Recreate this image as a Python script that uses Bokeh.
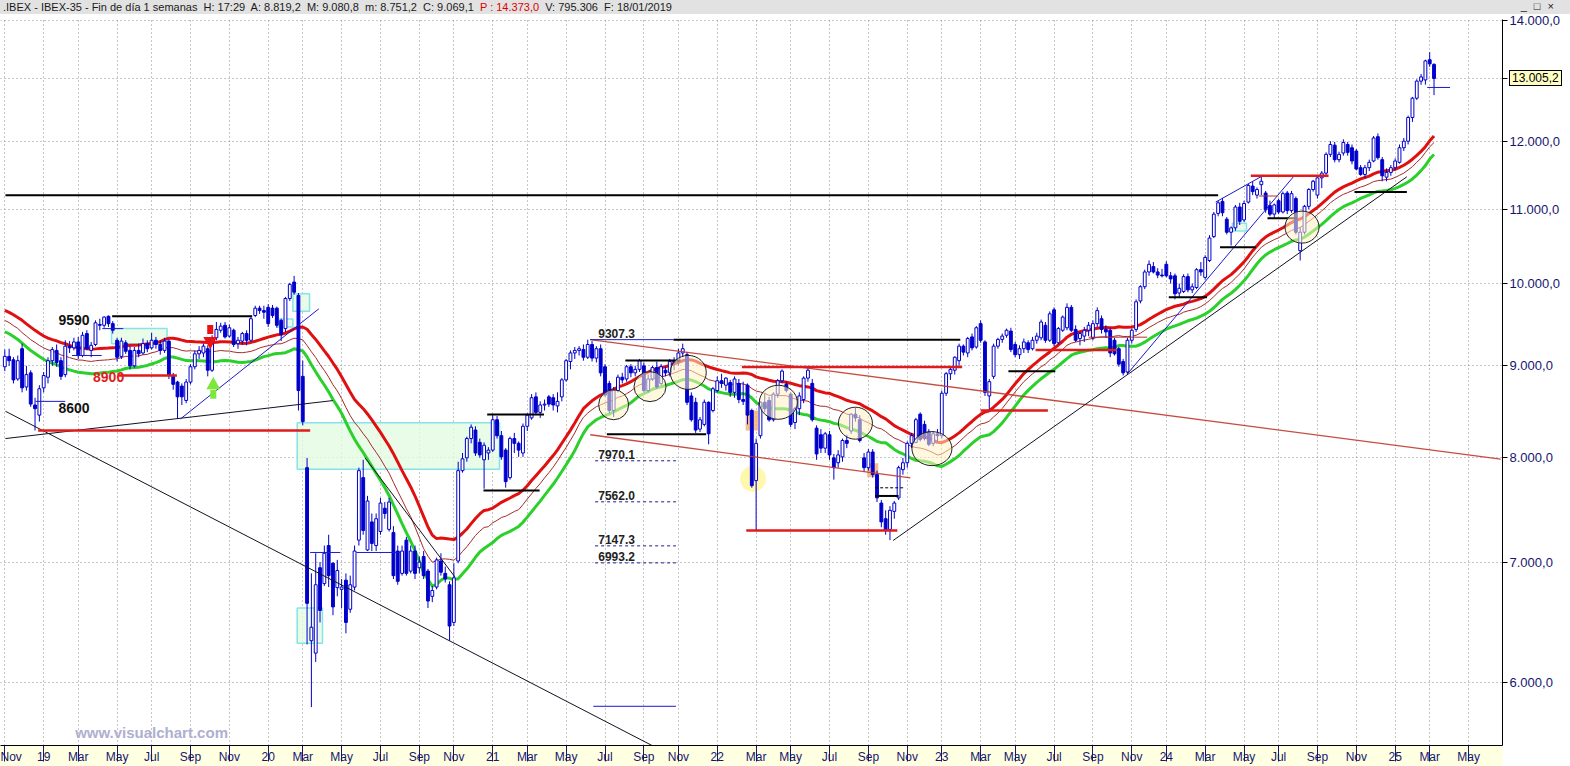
import numpy as np
import pandas as pd
from bokeh.plotting import figure
from bokeh.models import Range1d, FixedTicker, Div
from bokeh.layouts import column
from bokeh.embed import file_html
from bokeh.resources import INLINE
from bokeh.core.properties import value

# ---------------- DATA ----------------
first_week = "2018-11-05"          # Monday of the first weekly bar

# weekly bars (open, high, low, close)
ohlc_2018 = [
    (8990, 9190, 8940, 9110), (9110, 9200, 9000, 9060), (9070, 9100, 8800, 8840),
    (8850, 9120, 8830, 9060), (9200, 9260, 8700, 8750), (8760, 9000, 8720, 8900),
    (8920, 8950, 8540, 8570), (8560, 8640, 8286, 8520),
]
ohlc_2019 = [
    (8450, 8780, 8380, 8740), (8750, 8930, 8700, 8890), (8870, 9100, 8800, 9060), (9060, 9220, 9000, 9190),
    (9180, 9250, 8990, 9040), (9060, 9100, 8840, 8880), (8900, 9300, 8870, 9230), (9230, 9290, 9150, 9210),
    (9210, 9330, 9180, 9280), (9280, 9340, 9080, 9120), (9120, 9400, 9100, 9360), (9380, 9420, 9180, 9200),
    (9180, 9280, 9100, 9240), (9250, 9540, 9230, 9510), (9490, 9560, 9420, 9480), (9480, 9590, 9450, 9580),
    (9590, 9600, 9460, 9500), (9500, 9530, 9380, 9420), (9300, 9330, 9050, 9100), (9110, 9330, 9080, 9290),
    (9270, 9300, 9140, 9170), (9180, 9230, 8960, 9000), (9000, 9220, 8980, 9180), (9180, 9260, 9100, 9140),
    (9150, 9320, 9130, 9260), (9260, 9300, 9160, 9200), (9210, 9390, 9190, 9300), (9300, 9340, 9200, 9250),
    (9250, 9300, 9130, 9180), (9180, 9330, 9150, 9290), (9290, 9310, 8850, 8890), (8880, 8920, 8730, 8790),
    (8815, 8830, 8408, 8650), (8770, 8800, 8560, 8650), (8610, 8850, 8580, 8815), (8815, 9020, 8790, 8990),
    (8990, 9180, 8960, 9140), (9140, 9230, 9080, 9180), (9150, 9260, 9100, 9230), (9200, 9240, 8880, 8950),
    (8950, 9360, 8930, 9330), (9330, 9520, 9300, 9430), (9420, 9510, 9390, 9470), (9480, 9520, 9320, 9340),
    (9350, 9490, 9330, 9450), (9420, 9440, 9220, 9250), (9260, 9340, 9200, 9300), (9290, 9400, 9250, 9380),
    (9380, 9420, 9240, 9300), (9300, 9600, 9280, 9560), (9600, 9720, 9580, 9690), (9690, 9720, 9620, 9660),
]
ohlc_2020 = [
    (9660, 9720, 9560, 9640), (9700, 9740, 9460, 9500), (9690, 9730, 9570, 9600), (9690, 9710, 9450, 9480),
    (9540, 9560, 9290, 9370), (9440, 9830, 9400, 9810), (9810, 10010, 9780, 9990), (10020, 10100, 9860, 9890),
    (9850, 9880, 8500, 8720), (8880, 9060, 8340, 8380), (7900, 8000, 6300, 6640), (6330, 6900, 5814, 6440),
    (6230, 7080, 6160, 6800), (6950, 7000, 6480, 6580), (6810, 7150, 6790, 7080), (7150, 7250, 6780, 6880),
    (6990, 7000, 6540, 6610), (6775, 7020, 6700, 6925), (6760, 6850, 6600, 6780), (6840, 6900, 6390, 6480),
    (6590, 6880, 6560, 6800), (6780, 7150, 6750, 7100), (7200, 7900, 7150, 7870), (7800, 7980, 7250, 7290),
    (7110, 7620, 7100, 7570), (7370, 7450, 7100, 7170), (7150, 7450, 7100, 7400), (7280, 7600, 7250, 7550),
    (7500, 7560, 7400, 7450), (7300, 7600, 7280, 7560), (7270, 7330, 6850, 6880), (7100, 7150, 6800, 6830),
    (6900, 7150, 6880, 7100), (7200, 7230, 6880, 6900), (6920, 7150, 6900, 7100), (7100, 7150, 6850, 6900),
    (6950, 7050, 6900, 7000), (7050, 7100, 6850, 6880), (6920, 6940, 6600, 6660), (6700, 6790, 6650, 6750),
    (6780, 7040, 6760, 7020), (7010, 7080, 6880, 6910), (6900, 6960, 6820, 6850), (6800, 6830, 6330, 6450),
    (6480, 6990, 6450, 6860), (7010, 7960, 6990, 7870), (7870, 8050, 7850, 7990), (8000, 8220, 7960, 8200),
    (8200, 8350, 8150, 8320), (8290, 8330, 8020, 8050), (8160, 8200, 8000, 8030), (7980, 8160, 7690, 8130),
]
ohlc_2021 = [
    (8050, 8110, 7980, 8080), (8080, 8450, 8060, 8400), (8400, 8440, 8200, 8230), (8230, 8280, 7980, 8010),
    (8080, 8100, 7700, 7760), (7800, 8220, 7780, 8200), (8200, 8260, 8050, 8150), (8150, 8170, 8010, 8080),
    (8050, 8360, 8010, 8330), (8330, 8470, 8280, 8450), (8420, 8680, 8400, 8640), (8650, 8700, 8450, 8480),
    (8480, 8600, 8420, 8560), (8560, 8620, 8500, 8570), (8650, 8670, 8540, 8570), (8640, 8680, 8500, 8560),
    (8550, 8700, 8480, 8600), (8650, 8860, 8600, 8840), (8840, 9080, 8820, 9060), (9050, 9180, 8960, 9150),
    (9150, 9220, 9080, 9180), (9180, 9230, 9120, 9200), (9190, 9250, 9060, 9100), (9100, 9307, 9080, 9250),
    (9250, 9290, 9050, 9090), (9090, 9230, 9040, 9200), (9200, 9250, 8880, 8920), (8990, 9020, 8650, 8670),
    (8800, 8830, 8470, 8500), (8500, 8760, 8430, 8720), (8720, 8900, 8700, 8870), (8870, 8920, 8800, 8840),
    (8850, 9010, 8820, 8990), (8990, 9020, 8870, 8920), (8920, 9000, 8880, 8960), (8960, 9080, 8930, 9060),
    (9000, 9040, 8700, 8720), (8720, 8900, 8700, 8850), (8850, 9000, 8830, 8980), (8980, 9050, 8740, 8760),
    (8800, 9020, 8780, 8990), (8950, 8990, 8880, 8920), (8920, 9080, 8880, 9050), (9050, 9100, 8950, 9040),
    (9050, 9200, 9000, 9150), (9150, 9260, 9100, 9200), (9130, 9160, 8560, 8590), (8660, 8700, 8380, 8400),
    (8590, 8640, 8260, 8290), (8300, 8430, 8270, 8400), (8350, 8620, 8330, 8590), (8590, 8600, 8140, 8250),
    (8500, 8760, 8480, 8740),
]
ohlc_2022 = [
    (8720, 8880, 8700, 8830), (8830, 8910, 8750, 8800), (8780, 8870, 8720, 8860), (8810, 8840, 8650, 8700),
    (8700, 8880, 8640, 8850), (8800, 8850, 8580, 8620), (8620, 8820, 8560, 8600), (8780, 8800, 8350, 8450),
    (8500, 8520, 7700, 7720), (7770, 8200, 7290, 8150), (8230, 8600, 8200, 8590), (8590, 8690, 8480, 8520),
    (8610, 8650, 8380, 8400), (8400, 8700, 8380, 8680), (8680, 8850, 8640, 8830), (8830, 8960, 8800, 8940),
    (8790, 8820, 8700, 8720), (8680, 8700, 8320, 8350), (8370, 8540, 8300, 8520), (8520, 8700, 8450, 8660),
    (8620, 8880, 8580, 8860), (8860, 8987, 8820, 8950), (8800, 8850, 8380, 8400), (8310, 8340, 7980, 8040),
    (8240, 8300, 8050, 8100), (8100, 8270, 8050, 8250), (8240, 8280, 7980, 8030), (8000, 8040, 7780, 7900),
    (7950, 8080, 7900, 8030), (8010, 8200, 7960, 8180), (8180, 8240, 8100, 8150), (8280, 8470, 8250, 8460),
    (8460, 8530, 8380, 8420), (8400, 8450, 8160, 8180), (8000, 8050, 7860, 7900), (7900, 8090, 7870, 8060),
    (8060, 8090, 7800, 7830), (7830, 7870, 7560, 7600), (7550, 7580, 7320, 7370), (7400, 7480, 7250, 7290),
    (7300, 7520, 7200, 7480), (7470, 7570, 7400, 7550), (7600, 7920, 7580, 7900), (7880, 8000, 7830, 7950),
    (7950, 8170, 7900, 8150), (8150, 8260, 8100, 8230), (8160, 8420, 8150, 8400), (8460, 8480, 8170, 8190),
    (8350, 8390, 8180, 8200), (8270, 8300, 8120, 8140), (8150, 8280, 8120, 8250), (8250, 8300, 8170, 8230),
]
ohlc_2023 = [
    (8230, 8720, 8200, 8690), (8690, 8930, 8660, 8910), (8910, 8990, 8840, 8960), (8950, 9110, 8900, 9100),
    (9060, 9260, 9000, 9230), (9230, 9250, 9120, 9160), (9150, 9340, 9100, 9320), (9340, 9380, 9180, 9210),
    (9220, 9470, 9200, 9450), (9500, 9540, 9270, 9300), (9280, 9300, 8660, 8700), (8660, 8850, 8500, 8820),
    (8880, 9260, 8850, 9230), (9230, 9330, 9200, 9310), (9310, 9380, 9270, 9350), (9360, 9440, 9330, 9420),
    (9410, 9450, 9160, 9190), (9250, 9280, 9100, 9130), (9130, 9240, 9080, 9200), (9200, 9320, 9150, 9280),
    (9270, 9300, 9150, 9190), (9200, 9340, 9180, 9300), (9300, 9390, 9260, 9350), (9330, 9550, 9300, 9520),
    (9480, 9520, 9270, 9300), (9300, 9650, 9280, 9620), (9670, 9700, 9230, 9260), (9270, 9460, 9250, 9440),
    (9420, 9600, 9400, 9580), (9450, 9750, 9420, 9700), (9700, 9730, 9400, 9420), (9430, 9480, 9280, 9300),
    (9320, 9400, 9240, 9380), (9350, 9460, 9280, 9420), (9420, 9520, 9350, 9480), (9330, 9540, 9300, 9500),
    (9500, 9700, 9460, 9660), (9560, 9600, 9380, 9430), (9430, 9480, 9330, 9400), (9420, 9450, 9100, 9150),
    (9300, 9330, 9120, 9140), (9200, 9220, 8990, 9020), (9050, 9080, 8890, 8920), (8930, 9330, 8900, 9300),
    (9300, 9440, 9260, 9420), (9430, 9800, 9400, 9770), (9780, 9980, 9750, 9960), (9960, 10180, 9930, 10150),
    (10150, 10300, 10100, 10250), (10220, 10280, 10130, 10150), (10150, 10200, 10070, 10110), (10110, 10190, 10080, 10100),
]
ohlc_2024 = [
    (10250, 10290, 10080, 10100), (10100, 10150, 10000, 10060), (10100, 10130, 9800, 9870), (9880, 10000, 9830, 9940),
    (9900, 10120, 9880, 10090), (10090, 10130, 9890, 9920), (9920, 10000, 9880, 9960), (9950, 10200, 9930, 10180),
    (10180, 10280, 10100, 10150), (10080, 10370, 10050, 10340), (10300, 10640, 10280, 10600), (10620, 10960, 10600, 10930),
    (10940, 11120, 10900, 11090), (11110, 11160, 10900, 10950), (10860, 10890, 10650, 10680), (10680, 10760, 10500, 10740),
    (10740, 11060, 10700, 11030), (11030, 11090, 10780, 10830), (10850, 11120, 10820, 11080), (11100, 11360, 11080, 11340),
    (11330, 11400, 11200, 11250), (11200, 11310, 11150, 11280), (11350, 11470, 11200, 11400), (11230, 11260, 10950, 10990),
    (11050, 11120, 10900, 10930), (10930, 11080, 10880, 11060), (11120, 11150, 10930, 10960), (10960, 11250, 10940, 11220),
    (11230, 11260, 10930, 10980), (10980, 11260, 10950, 11220), (11150, 11180, 10650, 10680), (10430, 10750, 10300, 10680),
    (10680, 11060, 10650, 11040), (11040, 11300, 11000, 11280), (11280, 11420, 11250, 11400), (11200, 11480, 11150, 11450),
    (11450, 11550, 11300, 11520), (11520, 11830, 11480, 11800), (11800, 12000, 11760, 11950), (11940, 11990, 11680, 11720),
    (11720, 11840, 11680, 11800), (11820, 12030, 11780, 11980), (11950, 11990, 11780, 11830), (11900, 11950, 11650, 11700),
    (11850, 11880, 11560, 11580), (11600, 11640, 11480, 11500), (11500, 11640, 11450, 11600), (11600, 11720, 11550, 11680),
    (11700, 12080, 11680, 12050), (12070, 12120, 11720, 11750), (11720, 11760, 11400, 11480), (11460, 11590, 11400, 11530),
    (11530, 11640, 11480, 11600),
]
ohlc_2025 = [
    (11600, 11740, 11560, 11700), (11680, 11950, 11660, 11900), (11900, 12050, 11850, 12000), (12000, 12400, 11950, 12370),
    (12370, 12700, 12300, 12680), (12680, 12990, 12650, 12960), (12960, 13080, 12900, 13030), (12980, 13320, 12900, 13300),
    (13320, 13450, 13200, 13250), (13240, 13260, 12730, 13005.2),
]

# 30 weeks before the first bar (Apr-Oct 2018) used only to warm up the 30-week averages
pre_high = [9820, 9900, 10000, 10120, 10300, 10280, 10150, 9800, 9850, 9900, 9850, 9750, 9700, 9730, 9720,
            9850, 9860, 9700, 9560, 9520, 9500, 9420, 9400, 9520, 9560, 9420, 9250, 9050, 8950, 9050]
pre_close = [9770, 9850, 9960, 10060, 10250, 10160, 9880, 9470, 9800, 9780, 9750, 9620, 9620, 9670, 9600,
             9790, 9680, 9530, 9420, 9480, 9400, 9280, 9340, 9480, 9400, 9200, 8990, 8820, 8780, 9000]
pre_low = [9600, 9720, 9800, 9900, 10000, 10050, 9850, 9300, 9450, 9650, 9650, 9520, 9500, 9550, 9520,
           9580, 9620, 9450, 9250, 9350, 9330, 9180, 9200, 9300, 9350, 9150, 8850, 8700, 8650, 8700]
ma_period = 30

y_ticks = [6000, 7000, 8000, 9000, 10000, 11000, 12000, 14000]
month_names = {3: "Mar", 5: "May", 7: "Jul", 9: "Sep", 11: "Nov"}

# drawn studies: (start, end, level)
black_levels = [
    ("2018-11-06", "2024-03-25", 11198), ("2019-04-28", "2019-12-11", 9590),
    ("2020-12-26", "2021-03-28", 8457), ("2020-12-20", "2021-03-21", 7672),
    ("2021-10-24", "2023-02-01", 9307.3), ("2021-08-07", "2021-11-04", 9062),
    ("2021-07-08", "2021-12-16", 8246), ("2023-04-20", "2023-07-05", 8939),
    ("2024-01-05", "2024-03-07", 9826), ("2024-03-28", "2024-05-25", 10476),
    ("2024-06-13", "2024-07-31", 10874), ("2024-11-01", "2025-01-25", 11244),
    ("2022-09-16", "2022-10-24", 7619),
]
black_dash_levels = [("2022-09-16", "2022-11-01", 7699)]
red_levels = [
    ("2019-05-08", "2019-08-11", 8890), ("2018-12-29", "2020-03-14", 8286),
    ("2022-02-12", "2023-02-04", 8987), ("2022-02-19", "2022-10-22", 7289),
    ("2023-03-06", "2023-06-23", 8500), ("2023-06-03", "2023-10-12", 9186),
    ("2024-05-17", "2024-09-20", 11480),
]
thin_red_levels = [("2023-08-28", "2023-12-01", 9337), ("2024-05-30", "2024-06-29", 11187)]
blue_levels = [
    ("2019-04-12", "2019-05-16", 9440), ("2019-02-22", "2019-04-11", 9120),
    ("2018-12-25", "2019-02-11", 8600), ("2020-03-14", "2020-05-02", 7087),
    ("2020-05-28", "2020-08-07", 7087), ("2021-06-11", "2021-10-24", 9307.3),
    ("2021-06-16", "2021-10-28", 5820), ("2025-02-27", "2025-04-05", 12855),
]
fibo_levels = [7970.1, 7562.0, 7147.3, 6993.2]
fibo_span = ("2021-06-19", "2021-10-28")
top_level_label = 9307.3

black_trends = [
    ("2018-11-06", 8200, "2020-04-20", 8609), ("2018-11-06", 8492, "2021-10-03", 5504),
    ("2020-06-11", 8000, "2020-11-04", 6866), ("2022-10-15", 7196, "2025-01-25", 11466),
]
blue_trends = [
    ("2019-08-17", 8410, "2020-03-28", 9682), ("2024-03-21", 11100, "2024-06-07", 11490),
    ("2023-10-30", 8909, "2024-07-25", 11466),
]
red_trends = [("2021-06-11", 9307, "2025-06-26", 7988), ("2021-06-11", 8240, "2022-11-12", 7798)]

green_boxes = [
    ("2019-04-27", "2019-07-26", 9260, 9440), ("2020-02-15", "2020-03-13", 9652, 9870),
    ("2020-01-20", "2020-02-15", 9458, 9558), ("2020-02-22", "2021-01-15", 7884, 8367),
    ("2020-02-22", "2020-04-03", 6310, 6600), ("2024-04-17", "2024-05-10", 10697, 10805),
]
orange_boxes = [("2022-02-18", "2022-03-10", 8285, 8500), ("2022-09-03", "2022-09-21", 7805, 7945)]
circle_centers = [("2021-07-19", 8563), ("2021-09-16", 8764), ("2021-11-17", 8925), ("2022-04-12", 8590),
                  ("2022-08-15", 8363), ("2022-12-17", 8095), ("2024-08-08", 10750)]
yellow_spot = ("2022-03-02", 7788)
sell_arrow = ("2019-10-04", 9290, 9430)
buy_arrow = ("2019-10-09", 8780, 8680)
big_labels = [("9590", "2019-01-31", 9540), ("8600", "2019-01-31", 8530)]
red_label = ("8900", "2019-03-28", 8870)
watermark = ("www.visualchart.com", "2019-02-27", 5630)

# ---------------- PREP ----------------
bars = ohlc_2018 + ohlc_2019 + ohlc_2020 + ohlc_2021 + ohlc_2022 + ohlc_2023 + ohlc_2024 + ohlc_2025
opens = np.array([b[0] for b in bars], float)
highs = np.array([b[1] for b in bars], float)
lows = np.array([b[2] for b in bars], float)
closes = np.array([b[3] for b in bars], float)
dates = pd.date_range(first_week, periods=len(bars), freq="7D")

def sma(pre, cur):
    s = pd.Series(list(pre) + list(cur), dtype=float).rolling(ma_period).mean().to_numpy()
    return s[len(pre):]

ma_h = sma(pre_high, highs)
ma_c = sma(pre_close, closes)
ma_l = sma(pre_low, lows)

BLUE = "#0000cc"
NAVY = "#16166e"
FONT = "Liberation Sans"
WEEK_MS = 7 * 24 * 3600 * 1000

def es_num(v):
    return f"{v:,.1f}".replace(",", "X").replace(".", ",").replace("X", ".")

x_start = pd.Timestamp("2018-10-29")
x_end = pd.Timestamp("2025-06-29")
Y_LO, Y_HI = 5535, 14024
PAGE_W = 1570
HEADER_H, FIG_H, TOP_B, BOT_B, RIGHT_B = 14, 752, 5, 21, 68

p = figure(width=PAGE_W, height=FIG_H, x_axis_type="datetime", y_axis_type="log",
           y_axis_location="right",
           x_range=Range1d(x_start, x_end), y_range=Range1d(Y_LO, Y_HI),
           output_backend="svg", toolbar_location=None,
           min_border_left=0, min_border_top=TOP_B, min_border_right=RIGHT_B, min_border_bottom=BOT_B)
p.outline_line_color = None
p.background_fill_color = "white"
p.border_fill_color = "white"

# x ticks: first weekly bar of every odd month
mondays = pd.date_range(first_week, x_end, freq="7D")
x_ticks, x_labels, seen = [], {}, set()
for d in mondays:
    if d.month % 2 == 1 and (d.year, d.month) not in seen:
        seen.add((d.year, d.month))
        ms = float(d.value // 10**6)
        x_ticks.append(ms)
        x_labels[ms] = f"{d.year % 100:02d}" if d.month == 1 else month_names[d.month]

xa = p.xaxis[0]
xa.ticker = FixedTicker(ticks=x_ticks, minor_ticks=[])
xa.major_label_overrides = x_labels
xa.major_tick_out = 16
xa.major_tick_in = 0
xa.minor_tick_out = 0
xa.major_label_standoff = -12
xa.major_label_text_align = "left"
xa.major_label_text_font = FONT
xa.major_label_text_font_size = "12px"
xa.major_label_text_color = NAVY
xa.axis_line_color = "black"
xa.major_tick_line_color = NAVY
try:
    xa.background_fill_color = "#ffffe1"
except Exception:
    pass

last_close = float(closes[-1])
ya = p.yaxis[0]
ya.ticker = FixedTicker(ticks=y_ticks + [last_close], minor_ticks=[])
overrides = {t: es_num(t) for t in y_ticks}
overrides[last_close] = ""
ya.major_label_overrides = overrides
ya.major_tick_out = 5
ya.major_tick_in = 0
ya.minor_tick_out = 0
ya.major_label_standoff = 2
ya.major_label_text_font = FONT
ya.major_label_text_font_size = "13px"
ya.major_label_text_color = NAVY
ya.axis_line_color = "black"
ya.major_tick_line_color = "black"

for g in (p.xgrid[0], p.ygrid[0]):
    g.grid_line_color = "#8c8c8c"
    g.grid_line_dash = "1 3"
    g.grid_line_width = 1

# background boxes
gb = dict(left=pd.to_datetime([b[0] for b in green_boxes]), right=pd.to_datetime([b[1] for b in green_boxes]),
          bottom=[b[2] for b in green_boxes], top=[b[3] for b in green_boxes])
p.quad(**gb, fill_color="#e2fbe2", fill_alpha=0.8, line_color="#86e3ea", line_width=1.5)
ob = dict(left=pd.to_datetime([b[0] for b in orange_boxes]), right=pd.to_datetime([b[1] for b in orange_boxes]),
          bottom=[b[2] for b in orange_boxes], top=[b[3] for b in orange_boxes])
p.quad(**ob, fill_color="#f3a76a", fill_alpha=0.75, line_color=None)

# yellow spot
p.scatter(x=[pd.Timestamp(yellow_spot[0])], y=[yellow_spot[1]], size=26, marker="circle",
          fill_color="#fff59a", fill_alpha=0.8, line_color=None)

# moving averages
p.line(dates, ma_c, line_color="#a52a2a", line_width=1)
p.line(dates, ma_l, line_color="#2bd02b", line_width=3)
p.line(dates, ma_h, line_color="#e01010", line_width=3)

# candles
up = closes >= opens
p.segment(x0=dates, y0=lows, x1=dates, y1=highs, line_color=BLUE, line_width=1)
p.vbar(x=dates, width=0.66 * WEEK_MS, top=np.maximum(opens, closes), bottom=np.minimum(opens, closes),
       fill_color=["white" if u else BLUE for u in up], line_color=BLUE, line_width=1)

def level_seg(rows, **kw):
    p.segment(x0=pd.to_datetime([r[0] for r in rows]), x1=pd.to_datetime([r[1] for r in rows]),
              y0=[r[2] for r in rows], y1=[r[2] for r in rows], **kw)

def trend_seg(rows, **kw):
    p.segment(x0=pd.to_datetime([r[0] for r in rows]), y0=[r[1] for r in rows],
              x1=pd.to_datetime([r[2] for r in rows]), y1=[r[3] for r in rows], **kw)

trend_seg(red_trends, line_color="#c0392b", line_width=1.3, line_alpha=0.9)
trend_seg(black_trends, line_color="#111122", line_width=1)
trend_seg(blue_trends, line_color="#1a1acc", line_width=1)
level_seg(black_levels, line_color="black", line_width=2)
level_seg(black_dash_levels, line_color="black", line_width=1, line_dash="3 2")
level_seg(red_levels, line_color="#e01b1b", line_width=2.5)
level_seg(thin_red_levels, line_color="#b03030", line_width=1)
level_seg(blue_levels, line_color="#1a1acc", line_width=1)
fib_rows = [(fibo_span[0], fibo_span[1], v) for v in fibo_levels]
level_seg(fib_rows, line_color="#1a1a8c", line_width=1, line_dash="3 3")

# circles of interest
cc_x = pd.to_datetime([c[0] for c in circle_centers])
cc_y = [c[1] for c in circle_centers]
p.ellipse(x=cc_x, y=cc_y, width=[30, 32, 36, 38, 34, 40, 34], height=[30, 30, 34, 34, 32, 34, 32],
          width_units="screen", height_units="screen",
          fill_color="#fff3c4", fill_alpha=0.55, line_color="#222222", line_width=1)

# arrows
p.rect(x=[pd.Timestamp(sell_arrow[0])], y=[sell_arrow[2]], width=6, height=9, width_units="screen",
       height_units="screen", fill_color="#ee1111", line_color=None)
p.scatter(x=[pd.Timestamp(sell_arrow[0])], y=[sell_arrow[1]], marker="inverted_triangle", size=14,
          fill_color="#ee1111", line_color=None)
p.rect(x=[pd.Timestamp(buy_arrow[0])], y=[buy_arrow[2]], width=6, height=9, width_units="screen",
       height_units="screen", fill_color="#7be83a", line_color=None)
p.scatter(x=[pd.Timestamp(buy_arrow[0])], y=[buy_arrow[1]], marker="triangle", size=14,
          fill_color="#7be83a", line_color=None)

# texts
p.text(x=pd.to_datetime([t[1] for t in big_labels]), y=[t[2] for t in big_labels], text=[t[0] for t in big_labels],
       text_font=value(FONT), text_font_style="bold", text_font_size="14px", text_color="#111111",
       text_baseline="middle", text_align="left")
p.text(x=[pd.Timestamp(red_label[1])], y=[red_label[2]], text=[red_label[0]],
       text_font=value(FONT), text_font_style="bold", text_font_size="14px", text_color="#e02020",
       text_baseline="middle", text_align="left")
lvl_vals = [top_level_label] + fibo_levels
p.text(x=[pd.Timestamp("2021-06-24")] * len(lvl_vals), y=lvl_vals, text=[f"{v:.1f}" for v in lvl_vals],
       text_font=value(FONT), text_font_style="bold", text_font_size="12px", text_color="#222222",
       text_baseline="bottom", text_align="left", y_offset=-2)
p.text(x=[pd.Timestamp(watermark[1])], y=[watermark[2]], text=[watermark[0]],
       text_font=value(FONT), text_font_style="bold", text_font_size="15px", text_color="#aeb0d0",
       text_baseline="middle", text_align="left")

# last-price tag placed on the price scale (HTML overlay positioned from the log scale)
frame_h = FIG_H - TOP_B - BOT_B
frac = (np.log(Y_HI) - np.log(last_close)) / (np.log(Y_HI) - np.log(Y_LO))
tag_top = int(round(HEADER_H + TOP_B + frac * frame_h - 8))
tag_left = PAGE_W - RIGHT_B + 7

header = Div(
    text=('<span>.IBEX - IBEX-35 - Fin de día 1 semanas&nbsp; H: 17:29&nbsp; A: 8.819,2&nbsp; M: 9.080,8&nbsp; '
          'm: 8.751,2&nbsp; C: 9.069,1&nbsp; <span style="color:#e00000">P : 14.373,0</span>&nbsp; '
          'V: 795.306&nbsp; F: 18/01/2019</span>'
          '<span style="position:absolute; right:14px; top:-1px; letter-spacing:2px;">_ &#9633; &#215;</span>'
          f'<span style="position:absolute; left:{tag_left}px; top:{tag_top}px; z-index:20; '
          'background:#ffffc4; border:1px solid #000; color:#000; font-size:12px; line-height:14px; '
          f'padding:0 2px;">{es_num(last_close)}</span>'),
    width=PAGE_W, height=HEADER_H, margin=(0, 0, 0, 0),
    styles={"background-color": "#e2e2e2", "font-family": "Liberation Sans, Arial, sans-serif",
            "font-size": "11px", "line-height": "14px", "color": "#1a1a1a", "padding-left": "3px",
            "white-space": "nowrap", "overflow": "visible", "box-sizing": "border-box", "z-index": "5"})

layout = column(header, p, spacing=0)
open("out.html", "w").write(file_html(layout, INLINE))
